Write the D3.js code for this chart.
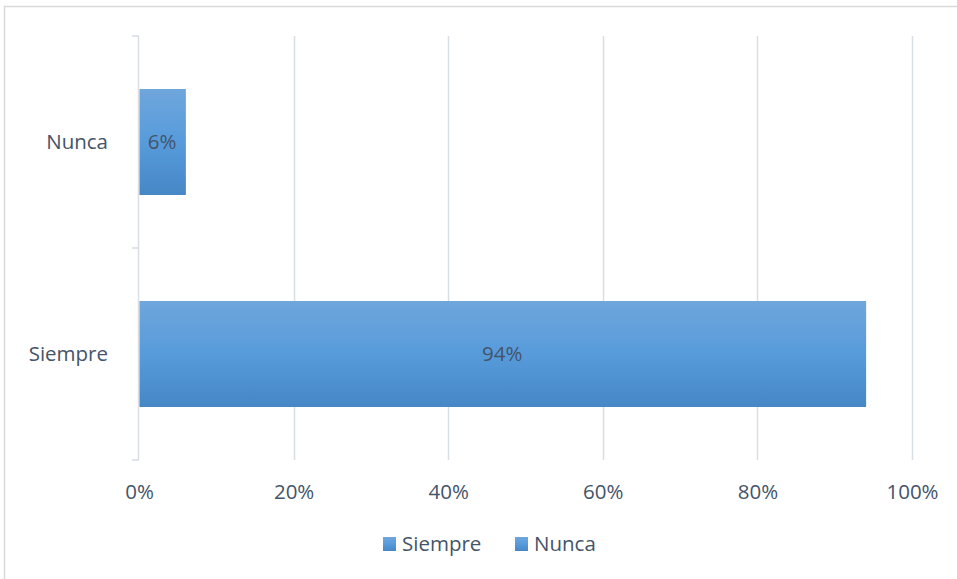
<!DOCTYPE html>
<html>
<head>
<meta charset="utf-8">
<script src="https://cdn.jsdelivr.net/npm/d3@7"></script>
<style>
  html, body { margin: 0; padding: 0; background: #fff; }
  svg { display: block; }
</style>
</head>
<body>
<svg id="chart" width="957" height="579"></svg>
<script>
// Survey answers (share of respondents)
const categories = ["Nunca", "Siempre"];
const values = [0.06, 0.94];
const seriesNames = ["Siempre", "Nunca"];
const tickValues = [0, 0.2, 0.4, 0.6, 0.8, 1.0];

const W = 957, H = 579;
const margin = { left: 139, right: 45, top: 36, bottom: 119 };
const textColor = "#44546a";
const gridColor = "#d9dde4";
const font = "'Open Sans', Lato, sans-serif";
const fontSize = 20.5;

const svg = d3.select("#chart");

// bar fill gradient
const defs = svg.append("defs");
const grad = defs.append("linearGradient")
  .attr("id", "barGrad").attr("x1", 0).attr("y1", 0).attr("x2", 0).attr("y2", 1);
grad.append("stop").attr("offset", "0%").attr("stop-color", "#6fa6dc");
grad.append("stop").attr("offset", "50%").attr("stop-color", "#579bdb");
grad.append("stop").attr("offset", "100%").attr("stop-color", "#4687c6");

// chart frame
svg.append("rect")
  .attr("x", 4.5).attr("y", 6.5)
  .attr("width", W + 4).attr("height", H)
  .attr("fill", "none").attr("stroke", "#d9d9d9").attr("stroke-width", 1.5);

const x = d3.scaleLinear().domain([0, 1]).range([margin.left, W - margin.right]);
const y = d3.scaleBand().domain(categories)
  .range([margin.top, H - margin.bottom]).paddingInner(0.5).paddingOuter(0.25);

// vertical gridlines
svg.append("g").selectAll("line").data(tickValues.slice(1)).join("line")
  .attr("x1", d => Math.round(x(d)) + 0.5).attr("x2", d => Math.round(x(d)) + 0.5)
  .attr("y1", margin.top).attr("y2", H - margin.bottom)
  .attr("stroke", gridColor).attr("stroke-width", 1.5);

// category axis line with ticks at band boundaries
const yTop = margin.top, yBot = H - margin.bottom;
const bandEdges = [yTop, (yTop + yBot) / 2, yBot];
svg.append("line")
  .attr("x1", x(0) - 0.5).attr("x2", x(0) - 0.5)
  .attr("y1", yTop).attr("y2", yBot)
  .attr("stroke", gridColor).attr("stroke-width", 1.5);
svg.append("g").selectAll("line").data(bandEdges).join("line")
  .attr("x1", x(0) - 7).attr("x2", x(0))
  .attr("y1", d => d).attr("y2", d => d)
  .attr("stroke", gridColor).attr("stroke-width", 1.5);

// bars
svg.append("g").selectAll("rect").data(categories).join("rect")
  .attr("x", x(0) + 0.5)
  .attr("y", d => y(d))
  .attr("width", (d, i) => x(values[i]) - x(0))
  .attr("height", y.bandwidth())
  .attr("fill", "url(#barGrad)");

// value labels
svg.append("g").selectAll("text").data(categories).join("text")
  .attr("x", (d, i) => (x(0) + x(values[i])) / 2)
  .attr("y", d => y(d) + y.bandwidth() / 2)
  .attr("dy", "0.35em")
  .attr("text-anchor", "middle")
  .attr("font-family", font).attr("font-size", fontSize)
  .attr("fill", textColor)
  .text((d, i) => d3.format(".0%")(values[i]));

// category labels
svg.append("g").selectAll("text").data(categories).join("text")
  .attr("x", x(0) - 31)
  .attr("y", d => y(d) + y.bandwidth() / 2)
  .attr("dy", "0.35em")
  .attr("text-anchor", "end")
  .attr("font-family", font).attr("font-size", fontSize)
  .attr("fill", textColor)
  .text(d => d);

// value axis labels
const xAxis = d3.axisBottom(x).tickValues(tickValues).tickFormat(d3.format(".0%")).tickSize(0).tickPadding(24);
const gx = svg.append("g").attr("transform", `translate(0,${yBot})`).call(xAxis);
gx.select(".domain").remove();
gx.selectAll("text").attr("font-family", font).attr("font-size", fontSize).attr("fill", textColor);

// legend
const legend = svg.append("g").attr("transform", "translate(383,544)");
const legendX = [0, 132];
seriesNames.forEach((name, i) => {
  const g = legend.append("g").attr("transform", `translate(${legendX[i]},0)`);
  g.append("rect").attr("x", 0).attr("y", -7).attr("width", 13).attr("height", 14)
    .attr("fill", "url(#barGrad)");
  g.append("text").attr("x", 19).attr("y", 0).attr("dy", "0.35em")
    .attr("font-family", font).attr("font-size", fontSize).attr("fill", textColor)
    .text(name);
});
</script>
</body>
</html>
